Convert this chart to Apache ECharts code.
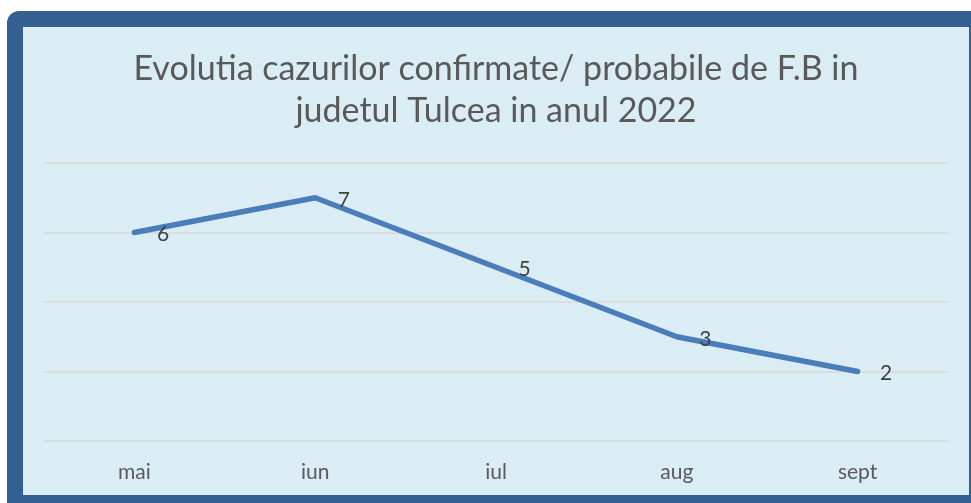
<!DOCTYPE html>
<html>
<head>
  <meta charset="utf-8" />
  <title>Evolutia cazurilor</title>
  <script src="https://cdn.jsdelivr.net/npm/echarts@6/dist/echarts.min.js"></script>
  <style>
    body { margin: 0; background: #ffffff; }
    #frame {
      position: absolute; left: 7px; top: 11px;
      border-style: solid; border-color: #345f93;
      border-width: 16px 2px 8px 16px;
      border-top-left-radius: 12px;
      width: 946px; height: 468px;
      background: #dbedf4;
    }
    #main { width: 946px; height: 468px; }
  </style>
</head>
<body>
  <div id="frame"><div id="main"></div></div>
  <script type="text/javascript">
    // luni si cazuri
    var months = ['mai', 'iun', 'iul', 'aug', 'sept'];
    var cases = [6, 7, 5, 3, 2];
    var titleText = 'Evolutia cazurilor confirmate/ probabile de F.B in\njudetul Tulcea in anul 2022';

    var myChart = echarts.init(document.getElementById('main'));
    var option = {
      backgroundColor: '#dbedf4',
      title: {
        text: titleText,
        left: 'center',
        top: 16,
        textStyle: {
          fontFamily: 'Lato',
          fontSize: 34,
          fontWeight: 'normal',
          lineHeight: 42,
          color: '#595959'
        }
      },
      grid: { left: 21, right: 21, top: 136, bottom: 54 },
      xAxis: {
        type: 'category',
        data: months,
        boundaryGap: true,
        axisLine: { show: false },
        axisTick: { show: false },
        axisLabel: { color: '#595959', fontSize: 21, fontFamily: 'Lato', margin: 21 }
      },
      yAxis: {
        type: 'value',
        min: 0, max: 8, interval: 2,
        axisLabel: { show: false },
        axisLine: { show: false },
        axisTick: { show: false },
        splitLine: { lineStyle: { color: '#d9d9d9', width: 1.5 } }
      },
      series: [{
        type: 'line',
        data: cases,
        symbol: 'circle',
        symbolSize: 1,
        itemStyle: { color: '#4a7ebb' },
        lineStyle: { color: '#4a7ebb', width: 5.5, cap: 'round', join: 'round' },
        label: {
          show: true,
          position: 'right',
          distance: 22,
          offset: [0, 2],
          color: '#404040',
          fontSize: 21,
          fontFamily: 'Lato'
        }
      }],
      animation: false
    };
    myChart.setOption(option);
  </script>
</body>
</html>
